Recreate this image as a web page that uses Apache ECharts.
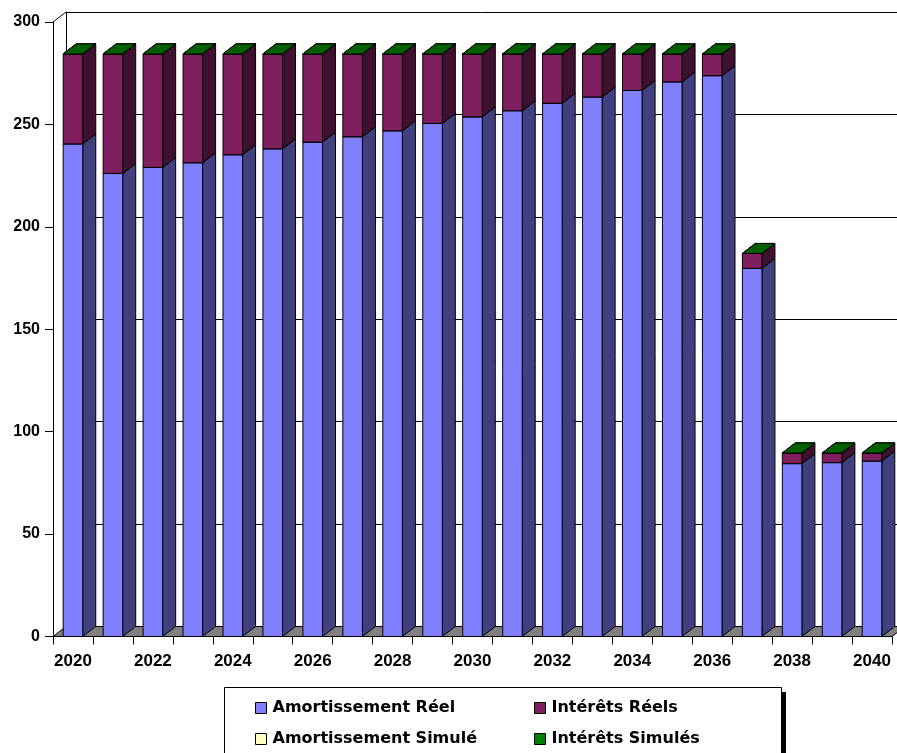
<!DOCTYPE html>
<html>
<head>
<meta charset="utf-8">
<script src="https://cdn.jsdelivr.net/npm/echarts@6/dist/echarts.min.js"></script>
<style>
html,body{margin:0;padding:0;background:#fff;}
#chart{width:897px;height:753px;}
</style>
</head>
<body>
<div id="chart"></div>
<script>
const years = ['2020','2021','2022','2023','2024','2025','2026','2027','2028','2029','2030','2031','2032','2033','2034','2035','2036','2037','2038','2039','2040'];
const amortissementReel = [240.5,226.1,229.0,231.3,235.2,238.1,241.4,244.0,246.9,250.5,253.7,256.7,260.3,263.4,266.6,270.8,273.8,179.7,84.4,84.9,85.7];
const interetsReels = [43.9,58.3,55.4,53.1,49.2,46.3,43.0,40.4,37.5,33.9,30.7,27.7,24.1,21.0,17.8,13.6,10.6,7.3,5.2,4.7,3.9];
const amortissementSimule = [0,0,0,0,0,0,0,0,0,0,0,0,0,0,0,0,0,0,0,0,0];
const interetsSimules = [0,0,0,0,0,0,0,0,0,0,0,0,0,0,0,0,0,0,0,0,0];
const yMin = 0, yMax = 300, yStep = 50;

const DX = 13, DY = 10, BAR_RATIO = 0.49;
const NUM_FONT = "'Liberation Sans', Arial, sans-serif";
const LEG_FONT = "'DejaVu Sans', sans-serif";

const defs = [
  {name:'Amortissement Réel', values:amortissementReel, front:'#8080FF', side:'#40407F', top:'#6666CC'},
  {name:'Intérêts Réels', values:interetsReels, front:'#801F5F', side:'#40102F', top:'#60184A'},
  {name:'Amortissement Simulé', values:amortissementSimule, front:'#FFFFC0', side:'#80805F', top:'#CCCC99'},
  {name:'Intérêts Simulés', values:interetsSimules, front:'#008000', side:'#004000', top:'#006000'}
];

function makeRender(def){
  return function(params, api){
    const i = api.value(0);
    const p0 = api.coord([i, api.value(1)]);
    const p1 = api.coord([i, api.value(2)]);
    const band = api.size([1,0])[0];
    const w = band*BAR_RATIO;
    const x1 = p0[0]-w/2, x2 = p0[0]+w/2;
    const yb = p0[1], yt = p1[1];
    const st = {stroke:'#000', lineWidth:1};
    return {type:'group', children:[
      {type:'polygon', shape:{points:[[x2,yt],[x2+DX,yt-DY],[x2+DX,yb-DY],[x2,yb]]}, style:Object.assign({fill:def.side}, st)},
      {type:'rect', shape:{x:x1,y:yt,width:w,height:yb-yt}, style:Object.assign({fill:def.front}, st)},
      {type:'polygon', shape:{points:[[x1,yt],[x2,yt],[x2+DX,yt-DY],[x1+DX,yt-DY]]}, style:Object.assign({fill:def.top}, st)}
    ]};
  };
}

const base = years.map(()=>0);
const barSeries = defs.map(def=>{
  const data = def.values.map((v,i)=>{ const d=[i, base[i], base[i]+v]; base[i]+=v; return d; });
  return {
    type:'custom', name:def.name, xAxisIndex:0, yAxisIndex:0, z:3,
    itemStyle:{color:def.front, borderColor:'#000', borderWidth:1},
    encode:{x:0, y:2},
    renderItem:makeRender(def),
    data:data
  };
});

const floorSeries = {
  type:'custom', name:'floor', xAxisIndex:0, yAxisIndex:0, z:1, silent:true,
  data:[[0,0]],
  renderItem:function(params, api){
    const band = api.size([1,0])[0];
    const a = api.coord([0, yMin]);
    const b = api.coord([years.length-1, yMin]);
    const t = api.coord([0, yMax]);
    const L = a[0]-band/2, R = b[0]+band/2, y0 = a[1];
    return {type:'group', children:[
      {type:'polygon', shape:{points:[[L,y0],[R,y0],[R+DX,y0-DY],[L+DX,y0-DY]]}, style:{fill:'#808080', stroke:'#000', lineWidth:1}},
      {type:'line', shape:{x1:L,y1:t[1],x2:L+DX,y2:t[1]-DY}, style:{stroke:'#000', lineWidth:1}}
    ]};
  }
};

const chart = echarts.init(document.getElementById('chart'));
chart.setOption({
  animation:false,
  backgroundColor:'#fff',
  grid:[
    {left:53, top:22, width:839, height:614.5},
    {left:66, top:12, width:860, height:614.5}
  ],
  xAxis:[
    {type:'category', gridIndex:0, data:years, boundaryGap:true,
     axisLine:{show:true, lineStyle:{color:'#000', width:1}},
     axisTick:{show:true, interval:0, length:8, lineStyle:{color:'#000'}},
     axisLabel:{interval:1, margin:16, color:'#000', fontWeight:'bold', fontSize:17, fontFamily:NUM_FONT},
     splitLine:{show:false}},
    {type:'value', gridIndex:1, min:0, max:1, show:false}
  ],
  yAxis:[
    {type:'value', gridIndex:0, min:yMin, max:yMax, interval:yStep,
     axisLine:{show:true, lineStyle:{color:'#000', width:1}},
     axisTick:{show:true, length:8, lineStyle:{color:'#000'}},
     axisLabel:{margin:13, color:'#000', fontWeight:'bold', fontSize:16, fontFamily:NUM_FONT},
     splitLine:{show:false}},
    {type:'value', gridIndex:1, min:yMin, max:yMax, interval:yStep,
     axisLine:{show:true, lineStyle:{color:'#000', width:1}},
     axisTick:{show:false}, axisLabel:{show:false},
     splitLine:{show:true, lineStyle:{color:'#000', width:1}}}
  ],
  legend:[
    {orient:'vertical', left:250, top:695, itemWidth:11, itemHeight:11, itemGap:15, selectedMode:false,
     icon:'rect', data:['Amortissement Réel','Amortissement Simulé'],
     itemStyle:{borderColor:'#000', borderWidth:1},
     textStyle:{color:'#000', fontWeight:'bold', fontSize:16, lineHeight:16, fontFamily:LEG_FONT, padding:[0,0,0,1]}},
    {orient:'vertical', left:529, top:695, itemWidth:11, itemHeight:11, itemGap:15, selectedMode:false,
     icon:'rect', data:['Intérêts Réels','Intérêts Simulés'],
     itemStyle:{borderColor:'#000', borderWidth:1},
     textStyle:{color:'#000', fontWeight:'bold', fontSize:16, lineHeight:16, fontFamily:LEG_FONT, padding:[0,0,0,1]}}
  ],
  graphic:[
    {type:'rect', left:781, top:692, shape:{width:5, height:70}, style:{fill:'#000'}, z:-1},
    {type:'rect', left:224, top:687, shape:{width:557, height:80}, style:{fill:'#fff', stroke:'#000', lineWidth:1}, z:-1}
  ],
  series:[floorSeries].concat(barSeries)
});
</script>
</body>
</html>
